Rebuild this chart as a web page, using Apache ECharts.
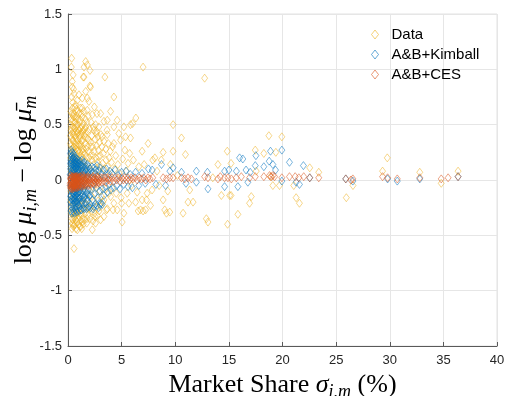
<!DOCTYPE html>
<html>
<head>
<meta charset="utf-8">
<script src="https://cdn.jsdelivr.net/npm/echarts@6/dist/echarts.min.js"></script>
<style>
  html, body { margin: 0; padding: 0; background: #fff; }
  #chart { width: 507px; height: 396px; }
</style>
</head>
<body>
<div id="chart"></div>
<script>
// Market share (%) vs. log markup deviation from the market average
const seriesNames = ['Data', 'A&B+Kimball', 'A&B+CES'];
const seriesColors = ['#EDB120', '#0072BD', '#D95319'];
const xTicks = [0, 5, 10, 15, 20, 25, 30, 35, 40];
const yTicks = [-1.5, -1, -0.5, 0, 0.5, 1, 1.5];

// Observed firms
const dataPoints = [
  [0.22,0.40],[0.24,0.20],[0.25,0.62],[0.26,-0.18],[0.27,0.50],[0.28,0.45],[0.29,-0.30],[0.30,0.31],[0.30,0.12],[0.31,-0.08],
  [0.31,1.02],[0.32,-0.25],[0.33,0.55],[0.33,0.28],[0.34,1.10],[0.35,0.38],[0.35,0.75],[0.36,0.22],[0.37,-0.35],[0.38,0.05],
  [0.38,-0.44],[0.40,0.89],[0.40,0.84],[0.40,0.53],[0.40,-0.39],[0.41,0.18],[0.42,0.42],[0.42,0.65],[0.43,-0.15],[0.44,0.29],
  [0.44,-0.40],[0.45,0.70],[0.46,-0.30],[0.46,0.58],[0.47,0.08],[0.48,0.48],[0.48,0.95],[0.49,-0.42],[0.50,0.35],[0.50,0.15],
  [0.51,-0.22],[0.52,0.60],[0.52,0.82],[0.53,0.26],[0.54,-0.05],[0.55,0.41],[0.56,0.78],[0.56,0.57],[0.56,-0.62],[0.57,-0.33],
  [0.58,0.20],[0.59,0.10],[0.60,-0.18],[0.61,0.47],[0.62,0.33],[0.63,-0.40],[0.64,0.66],[0.65,0.24],[0.66,-0.27],[0.67,0.02],
  [0.68,0.52],[0.69,0.14],[0.70,-0.12],[0.71,0.68],[0.71,-0.36],[0.72,0.38],[0.73,0.28],[0.74,-0.44],[0.75,0.06],[0.76,0.44],
  [0.77,-0.24],[0.78,0.19],[0.79,0.58],[0.80,-0.08],[0.81,0.31],[0.82,-0.31],[0.83,0.12],[0.84,0.49],[0.85,-0.38],[0.86,0.23],
  [0.87,0.72],[0.87,0.50],[0.87,-0.45],[0.88,0.04],[0.89,0.36],[0.90,-0.20],[0.91,0.62],[0.92,0.16],[0.93,-0.29],[0.94,0.43],
  [0.95,0.27],[0.96,-0.14],[0.97,0.55],[0.98,0.09],[0.99,-0.40],
  [0.23,0.33],[0.27,-0.10],[0.29,0.08],[0.32,0.47],[0.34,-0.20],[0.36,0.60],[0.39,0.25],[0.41,-0.28],[0.43,0.36],[0.45,0.12],
  [0.47,-0.36],[0.49,0.20],[0.51,0.44],[0.53,-0.12],[0.55,0.30],[0.57,-0.41],[0.59,0.52],[0.61,0.03],[0.63,0.18],[0.65,-0.33],
  [0.67,0.40],[0.69,-0.20],[0.72,0.56],[0.74,0.15],[0.76,-0.30],[0.78,0.34],[0.81,0.64],[0.83,-0.16],[0.85,0.42],[0.88,0.26],
  [0.91,-0.35],[0.93,0.46],[0.95,0.07],[0.98,0.32],
  [1.01,-0.22],[1.05,0.40],[1.09,0.20],[1.13,0.47],[1.17,-0.30],[1.21,0.32],[1.27,0.42],[1.33,-0.38],[1.39,0.25],[1.45,0.45],
  [1.53,-0.22],[1.61,0.42],[1.69,0.28],[1.77,-0.35],[1.86,0.37],[1.96,0.20],
  [1.02,0.77],[1.02,0.60],[1.03,0.32],[1.04,-0.33],[1.05,0.18],[1.06,0.45],[1.07,-0.10],[1.08,0.25],[1.09,-0.42],[1.10,0.52],
  [1.11,0.07],[1.12,0.38],[1.13,-0.26],[1.14,0.15],[1.15,0.65],[1.16,-0.37],[1.17,0.30],[1.18,0.54],[1.18,-0.42],[1.19,0.01],
  [1.20,0.41],[1.22,-0.18],[1.23,0.22],[1.24,0.60],[1.25,-0.31],[1.26,0.35],[1.27,0.10],[1.28,-0.44],[1.29,0.48],[1.30,0.27],
  [1.31,-0.22],[1.32,0.57],[1.33,0.74],[1.33,0.65],[1.34,0.13],[1.35,-0.35],[1.36,0.44],[1.37,0.20],[1.38,-0.09],[1.40,0.36],
  [1.42,0.93],[1.42,-0.40],[1.43,0.05],[1.44,0.51],[1.45,0.28],[1.46,-0.27],[1.48,0.62],[1.49,1.02],[1.49,0.93],[1.50,0.17],
  [1.51,-0.15],[1.52,0.40],[1.54,-0.36],[1.55,0.24],[1.57,0.46],[1.58,-0.05],[1.60,0.33],[1.62,-0.30],[1.63,0.55],[1.65,1.07],
  [1.65,0.80],[1.65,0.48],[1.66,0.12],[1.68,-0.22],[1.70,0.38],[1.72,0.21],[1.74,-0.39],[1.75,0.52],[1.77,0.03],[1.79,0.30],
  [1.80,1.04],[1.80,0.74],[1.80,0.63],[1.81,-0.17],[1.83,0.44],[1.85,0.15],[1.87,-0.32],[1.88,0.58],[1.90,0.26],[1.92,-0.08],
  [1.95,0.71],[1.95,0.36],[1.97,-0.25],[1.99,0.10],
  [2.02,0.46],[2.04,-0.26],[2.05,0.99],[2.05,0.85],[2.06,-0.35],[2.08,0.22],[2.10,0.84],[2.12,0.34],[2.14,-0.14],[2.15,0.30],
  [2.16,0.52],[2.18,0.08],[2.20,-0.28],[2.22,0.40],[2.24,0.18],[2.26,0.59],[2.26,-0.45],[2.28,-0.06],[2.30,0.30],[2.32,0.22],
  [2.33,-0.37],[2.35,0.48],[2.38,0.14],[2.40,-0.20],[2.42,0.45],[2.44,0.26],[2.46,0.66],[2.48,-0.30],[2.50,0.05],[2.52,-0.33],
  [2.53,0.37],[2.55,-0.12],[2.57,0.50],[2.57,-0.39],[2.60,0.20],[2.63,0.42],[2.65,-0.25],[2.67,0.44],[2.68,0.31],[2.70,0.60],
  [2.72,-0.04],[2.73,-0.32],[2.75,0.16],[2.78,0.39],[2.80,-0.19],[2.83,0.27],[2.85,0.21],[2.86,0.09],[2.88,0.48],[2.90,-0.28],
  [2.93,0.34],[2.96,0.13],[2.98,-0.10],
  [3.02,0.22],[3.04,0.60],[3.04,-0.24],[3.04,-0.36],[3.07,0.41],[3.10,0.06],[3.13,-0.15],[3.16,0.30],[3.19,0.39],[3.22,0.15],
  [3.25,-0.20],[3.30,0.24],[3.35,0.53],[3.35,0.35],[3.35,-0.18],[3.35,-0.33],[3.40,0.10],[3.44,0.93],[3.48,-0.08],[3.52,0.28],
  [3.56,0.18],[3.60,-0.27],[3.64,0.45],[3.66,0.54],[3.66,0.41],[3.66,-0.26],[3.70,0.12],[3.75,0.33],[3.80,-0.12],[3.85,0.20],
  [3.90,0.05],[3.94,0.26],[3.97,0.62],[3.97,-0.15],
  [4.05,0.16],[4.10,-0.07],[4.15,0.30],[4.20,-0.27],[4.28,0.75],[4.28,0.48],[4.28,0.33],[4.28,-0.21],[4.35,0.10],[4.45,0.22],
  [4.50,-0.12],[4.59,0.54],[4.59,-0.27],[4.65,0.14],[4.74,0.42],[4.80,0.06],[4.90,0.36],[4.95,-0.16],[5.00,-0.21],[5.05,-0.38],
  [5.10,0.19],[5.21,0.48],[5.21,-0.30],[5.30,0.27],[5.37,0.39],[5.45,0.08],[5.52,-0.12],[5.60,0.15],[5.67,-0.21],[5.75,0.24],
  [5.83,0.50],[5.83,0.38],[5.90,-0.05],
  [6.02,0.51],[6.10,0.18],[6.30,-0.20],[6.33,0.56],[6.45,-0.11],[6.54,-0.28],[6.60,0.12],[6.76,-0.27],[6.91,0.26],[6.91,-0.18],
  [7.00,1.02],[7.00,-0.28],[7.10,0.14],[7.23,-0.27],[7.32,-0.18],[7.38,-0.12],[7.47,0.33],[7.69,-0.23],[7.84,-0.09],[7.90,0.18],
  [8.10,0.20],[8.30,0.08],[8.50,-0.05],[8.70,0.18],[8.87,0.25],[8.87,-0.18],[9.02,-0.27],[9.18,-0.30],[9.30,-0.10],[9.49,-0.29],
  [9.55,0.14],[9.80,0.50],[9.80,0.26],
  [10.20,0.04],[10.58,0.38],[10.73,-0.30],[10.95,0.23],[11.19,-0.20],[11.35,-0.09],[11.66,-0.20],[12.74,0.92],[12.90,-0.35],[13.05,-0.38],
  [13.50,0.02],[13.98,0.14],[14.30,-0.14],[14.85,0.26],[14.88,-0.40],[15.07,-0.14],[15.20,0.15],[15.20,-0.14],[15.84,-0.31],[16.93,-0.21],
  [17.09,-0.15],[17.46,0.27],[17.55,0.08],[18.26,0.24],[18.73,0.40],[18.90,0.03],[19.10,-0.05],[19.38,0.25],[19.72,-0.05],[19.94,0.39],
  [21.05,-0.05],[21.27,-0.16],[21.58,-0.21],[22.54,0.11],[23.38,0.07],[25.95,-0.16],[26.57,-0.05],[29.33,0.08],[29.77,0.20],[32.80,0.07],
  [34.80,-0.03],[36.37,0.08]
];

// Model with Kimball demand
const kimballPoints = [
  [0.22,0.24],[0.23,-0.20],[0.24,0.10],[0.25,-0.05],[0.26,0.18],[0.27,-0.28],[0.28,0.05],[0.29,0.27],[0.30,-0.14],[0.31,0.14],
  [0.32,-0.24],[0.33,0.21],[0.34,-0.08],[0.35,0.08],[0.36,-0.30],[0.37,0.25],[0.38,-0.18],[0.39,0.02],[0.40,0.17],[0.41,-0.11],
  [0.42,0.22],[0.43,-0.26],[0.44,0.11],[0.45,-0.02],[0.46,0.19],[0.47,-0.16],[0.48,0.06],[0.49,0.24],[0.50,-0.22],[0.51,0.13],
  [0.52,-0.07],[0.53,0.20],[0.54,-0.29],[0.55,0.04],[0.56,-0.13],[0.57,0.16],[0.58,-0.20],[0.59,0.09],[0.60,0.22],[0.60,-0.30],
  [0.61,-0.04],[0.62,-0.25],[0.63,0.12],[0.64,-0.10],[0.65,0.18],[0.66,-0.17],[0.67,0.07],[0.68,-0.23],[0.69,0.15],[0.70,-0.06],
  [0.71,0.20],[0.72,-0.14],[0.73,0.03],[0.74,-0.27],[0.75,0.11],[0.76,-0.19],[0.77,0.17],[0.78,-0.09],[0.79,0.05],[0.80,-0.24],
  [0.80,-0.29],[0.81,0.14],[0.82,-0.12],[0.83,0.19],[0.84,-0.03],[0.85,-0.21],[0.86,0.09],[0.87,-0.15],[0.88,0.16],[0.89,-0.26],
  [0.90,0.06],[0.91,-0.08],[0.92,0.13],[0.93,-0.18],[0.94,0.18],[0.95,-0.11],[0.96,0.02],[0.97,-0.23],[0.98,0.10],[0.99,-0.05],
  [0.21,0.05],[0.23,0.15],[0.25,-0.15],[0.27,0.12],[0.29,-0.09],[0.31,0.03],[0.33,-0.17],[0.35,0.16],[0.37,-0.03],[0.39,-0.22],
  [0.41,0.09],[0.43,0.19],[0.45,-0.12],[0.47,0.14],[0.49,-0.06],[0.51,-0.18],[0.53,0.09],[0.55,-0.10],[0.57,0.01],[0.59,-0.16],
  [0.61,0.15],[0.63,-0.08],[0.65,0.04],[0.67,-0.20],[0.69,0.10],[0.71,-0.11],[0.73,0.16],[0.75,-0.16],[0.77,0.00],[0.79,0.12],
  [0.81,-0.07],[0.83,-0.19],[0.85,0.13],[0.87,0.02],[0.89,-0.12],[0.91,0.15],[0.93,-0.03],[0.95,0.09],[0.97,-0.16],
  [1.01,0.06],[1.05,-0.11],[1.09,0.02],[1.13,-0.16],[1.17,0.10],[1.21,-0.06],[1.25,0.13],[1.29,-0.20],[1.33,0.03],[1.37,-0.13],
  [1.41,0.08],[1.45,-0.03],[1.49,-0.16],[1.55,0.06],[1.61,-0.10],[1.67,0.09],[1.73,-0.17],[1.79,0.04],[1.85,-0.13],[1.91,0.07],
  [1.97,-0.15],
  [1.00,-0.28],[1.02,0.15],[1.04,-0.17],[1.06,0.07],[1.08,-0.24],[1.10,0.12],[1.12,-0.08],[1.14,0.17],[1.16,-0.20],[1.18,0.04],
  [1.20,-0.12],[1.20,-0.27],[1.22,0.14],[1.24,-0.27],[1.26,0.08],[1.28,-0.15],[1.30,0.18],[1.32,-0.05],[1.34,-0.22],[1.36,0.11],
  [1.38,-0.10],[1.40,0.15],[1.42,-0.18],[1.44,0.05],[1.46,-0.25],[1.48,0.12],[1.50,-0.07],[1.50,-0.26],[1.53,0.16],[1.56,-0.14],
  [1.59,0.08],[1.62,-0.21],[1.65,0.13],[1.68,-0.04],[1.71,-0.26],[1.74,0.10],[1.77,-0.12],[1.80,0.14],[1.80,-0.25],[1.83,-0.19],
  [1.86,0.06],[1.89,-0.09],[1.92,0.12],[1.95,-0.24],[1.98,0.03],
  [2.02,-0.14],[2.06,0.10],[2.10,-0.22],[2.10,-0.25],[2.14,0.05],[2.18,-0.08],[2.22,0.12],[2.26,-0.18],[2.30,0.07],[2.34,-0.26],
  [2.38,-0.04],[2.40,-0.24],[2.42,0.11],[2.46,-0.13],[2.50,0.06],[2.55,-0.22],[2.60,0.09],[2.65,-0.07],[2.70,0.13],[2.70,-0.23],
  [2.75,-0.16],[2.80,0.04],[2.85,-0.25],[2.90,0.08],[2.95,-0.10],[3.00,0.11],[3.00,-0.22],[3.07,-0.21],[3.14,0.05],[3.20,-0.22],
  [3.21,-0.08],[3.28,0.09],[3.35,-0.14],[3.42,0.03],[3.50,-0.06],[3.58,0.10],[3.66,-0.11],[3.74,0.05],[3.82,-0.04],[3.90,0.08],
  [3.98,-0.09],
  [4.10,0.06],[4.25,-0.07],[4.40,0.09],[4.55,-0.05],[4.70,0.04],[4.85,-0.08],[5.00,0.07],[5.20,-0.04],[5.40,0.08],[5.60,-0.06],
  [5.80,0.05],[6.00,-0.07],[6.30,0.07],[6.60,-0.05],[6.90,0.06],[7.20,-0.03],[7.50,0.10],[7.85,0.09],[8.20,-0.04],[8.72,0.14],
  [9.10,-0.05],[9.50,0.08],[9.80,0.11],
  [10.58,0.07],[11.00,-0.03],[11.97,0.08],[11.97,-0.02],[13.00,0.07],[13.05,-0.08],[14.60,0.08],[14.60,-0.06],[15.00,0.09],[15.70,0.08],
  [15.84,-0.06],[16.00,0.20],[16.30,0.19],[16.60,0.09],[16.77,-0.02],[16.99,0.07],[17.46,0.13],[17.52,0.22],[18.26,0.12],[18.76,0.17],
  [18.88,0.26],[19.10,0.14],[19.35,0.09],[19.94,0.27],[19.94,-0.01],[20.65,0.16],[21.27,-0.02],[21.58,-0.04],[21.95,0.13],[22.54,0.02],
  [25.90,0.01],[26.56,-0.01],[29.80,0.01],[30.70,-0.01],[32.80,0.01],[36.37,0.03]
];

// Model with CES demand
const cesPoints = [
  [0.20,-0.05],[0.22,0.01],[0.24,-0.07],[0.26,0.02],[0.28,-0.02],[0.30,-0.06],[0.32,0.01],[0.34,-0.04],[0.36,0.03],[0.38,-0.07],
  [0.40,-0.01],[0.42,-0.05],[0.44,0.02],[0.46,-0.06],[0.48,-0.02],[0.50,0.02],[0.52,-0.04],[0.54,-0.06],[0.56,0.01],[0.58,-0.03],
  [0.60,0.02],[0.62,-0.06],[0.64,0.00],[0.66,-0.04],[0.68,0.02],[0.70,-0.05],[0.72,-0.01],[0.74,0.03],[0.76,-0.04],[0.78,0.01],
  [0.80,-0.06],[0.82,0.02],[0.84,-0.03],[0.86,0.00],[0.88,-0.05],[0.90,0.03],[0.92,-0.03],[0.94,0.01],[0.96,-0.04],[0.98,-0.01],
  [0.21,-0.03],[0.25,0.04],[0.29,-0.08],[0.33,-0.02],[0.37,-0.05],[0.41,0.03],[0.45,-0.08],[0.49,-0.04],[0.53,0.03],[0.57,-0.07],
  [0.61,-0.02],[0.65,0.03],[0.69,-0.07],[0.73,-0.03],[0.77,0.03],[0.81,-0.04],[0.85,-0.07],[0.89,0.01],[0.93,-0.06],[0.97,0.02],
  [1.02,0.02],[1.06,-0.04],[1.10,0.00],[1.14,-0.03],[1.18,0.03],[1.22,-0.05],[1.26,0.01],[1.30,-0.03],[1.34,0.02],[1.38,-0.04],
  [1.42,-0.01],[1.46,0.02],[1.50,-0.03],[1.55,0.01],[1.60,-0.04],[1.65,0.00],[1.70,0.02],[1.75,-0.03],[1.80,0.01],[1.85,-0.02],
  [1.90,0.02],[1.95,-0.03],[2.00,0.00],
  [1.04,-0.06],[1.12,0.03],[1.20,-0.02],[1.28,-0.06],[1.36,0.04],[1.44,-0.05],[1.52,0.03],[1.62,-0.02],[1.72,-0.05],[1.82,0.03],
  [1.92,-0.05],
  [2.06,0.02],[2.12,-0.03],[2.18,0.01],[2.24,-0.02],[2.30,0.02],[2.36,-0.03],[2.42,0.00],[2.48,0.02],[2.54,-0.02],[2.60,0.01],
  [2.66,-0.02],[2.72,0.00],[2.78,0.02],[2.84,-0.02],[2.90,0.01],[2.96,-0.01],
  [2.15,-0.04],[2.33,0.03],[2.51,-0.04],[2.69,0.03],[2.87,-0.03],
  [3.05,0.02],[3.15,-0.02],[3.25,0.02],[3.35,-0.01],[3.45,0.02],[3.55,-0.02],[3.65,0.02],[3.75,0.00],[3.85,0.02],[3.95,-0.01],
  [4.10,0.02],[4.25,-0.01],[4.40,0.02],[4.55,0.00],[4.70,0.02],[4.85,-0.01],[5.00,0.02],[5.15,0.00],[5.30,0.02],[5.45,0.00],
  [5.60,0.02],[5.75,0.00],[5.90,0.02],
  [6.05,0.01],[6.25,0.02],[6.45,0.00],[6.65,0.02],[6.85,0.01],[7.05,0.02],[7.25,0.00],[7.45,0.02],[7.65,0.01],[7.90,0.02],
  [8.87,0.02],[9.18,0.01],[9.49,0.02],[9.80,0.02],[10.58,0.02],[10.88,0.01],[11.19,0.02],[11.50,0.01],[12.74,0.03],[13.05,0.02],
  [13.98,0.01],[14.20,0.03],[14.60,0.02],[14.91,0.02],[15.23,0.01],[15.69,0.02],[16.16,0.03],[16.93,0.02],[17.46,0.03],[18.26,0.03],
  [18.79,0.04],[18.95,0.03],[19.10,0.04],[19.26,0.03],[19.94,0.02],[20.65,0.03],[21.18,0.03],[21.52,0.02],[21.98,0.03],[22.54,0.02],
  [23.38,0.02],[25.90,0.01],[26.37,0.00],[26.56,0.01],[29.33,0.03],[29.80,0.02],[30.70,0.01],[32.80,0.02],[34.80,0.01],[35.44,0.02],
  [36.37,0.03]
];

const seriesData = [dataPoints, kimballPoints, cesPoints];

const sansFont = '"Liberation Sans", Arial, Helvetica, sans-serif';
const serifFont = '"Liberation Serif", "DejaVu Serif", serif';

const mathRich = {
  t: { fontFamily: serifFont, fontSize: 26, color: '#000', lineHeight: 32, verticalAlign: 'middle' },
  g: { fontFamily: serifFont, fontStyle: 'italic', fontSize: 26, color: '#000', lineHeight: 32, verticalAlign: 'middle' },
  s: { fontFamily: serifFont, fontStyle: 'italic', fontSize: 18, color: '#000', lineHeight: 17, verticalAlign: 'bottom' }
};

const chart = echarts.init(document.getElementById('chart'), null, { renderer: 'canvas' });

chart.setOption({
  animation: false,
  backgroundColor: '#fff',
  grid: {
    left: 68, right: 10, top: 14, bottom: 50,
    containLabel: false, outerBoundsMode: 'none',
    show: true, borderColor: '#e3e3e3', borderWidth: 1, backgroundColor: 'transparent'
  },
  legend: {
    orient: 'vertical',
    left: 366, top: 21,
    itemWidth: 7, itemHeight: 9, itemGap: 3,
    icon: 'diamond',
    textStyle: { fontFamily: sansFont, fontSize: 15, color: '#000', padding: [0, 0, 0, 8], lineHeight: 17 },
    data: seriesNames.map((n, i) => ({
      name: n,
      itemStyle: { color: 'rgba(255,255,255,0)', borderColor: seriesColors[i], borderWidth: 1, opacity: 0.6 }
    }))
  },
  xAxis: {
    type: 'value', min: 0, max: 40, interval: 5,
    axisLine: { show: true, onZero: false, lineStyle: { color: '#5a5a5a', width: 1 } },
    axisTick: { show: true, inside: true, length: 4, lineStyle: { color: '#5a5a5a' } },
    axisLabel: {
      fontFamily: sansFont, fontSize: 13, color: '#262626', margin: 8,
      formatter: v => xTicks.includes(v) ? String(v) : ''
    },
    splitLine: { show: true, lineStyle: { color: '#e6e6e6', width: 1 } },
    name: '{t|Market Share }{g|σ}{s|i,m}{t| (%)}',
    nameLocation: 'middle', nameGap: 16,
    nameTextStyle: { rich: mathRich }
  },
  yAxis: {
    type: 'value', min: -1.5, max: 1.5, interval: 0.5,
    axisLine: { show: true, onZero: false, lineStyle: { color: '#5a5a5a', width: 1 } },
    axisTick: { show: true, inside: true, length: 4, lineStyle: { color: '#5a5a5a' } },
    axisLabel: {
      fontFamily: sansFont, fontSize: 13, color: '#262626', margin: 6,
      formatter: v => yTicks.includes(v) ? String(v) : ''
    },
    splitLine: { show: true, lineStyle: { color: '#e6e6e6', width: 1 } },
    name: '{t|log }{g|μ}{s|i,m}{t| − log }{g|μ̄}{s|m}',
    nameLocation: 'middle', nameGap: 28, nameRotate: 90, nameMoveOverlap: false,
    nameTextStyle: { rich: mathRich }
  },
  series: seriesNames.map((n, i) => ({
    name: n,
    type: 'scatter',
    data: seriesData[i],
    symbol: 'diamond',
    symbolSize: [6, 8],
    itemStyle: { color: 'rgba(255,255,255,0)', borderColor: seriesColors[i], borderWidth: 0.8, opacity: 0.65 },
    emphasis: { disabled: true },
    z: 2 + i
  }))
});
</script>
</body>
</html>
